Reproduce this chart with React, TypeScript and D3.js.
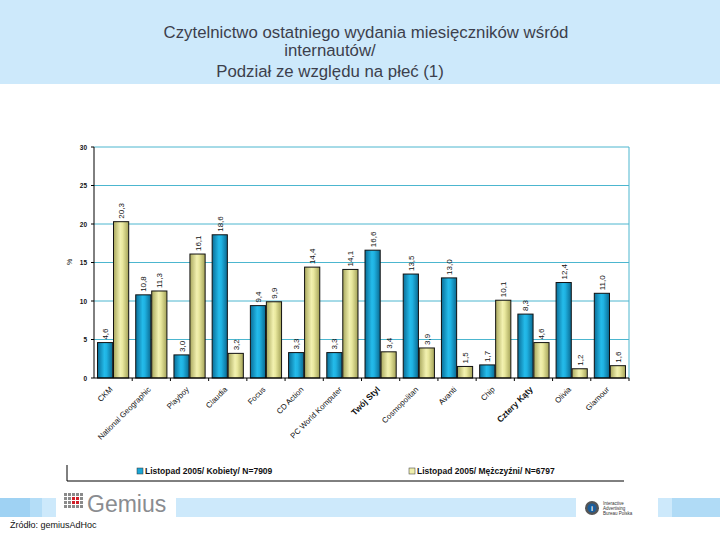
import React from "react";
import * as d3 from "d3";

const categories = ["CKM", "National Geographic", "Playboy", "Claudia", "Focus", "CD Action", "PC World Komputer", "Twój Styl", "Cosmopolitan", "Avanti", "Chip", "Cztery Kąty", "Olivia", "Glamour"];
const women = [4.6, 10.8, 3.0, 18.6, 9.4, 3.3, 3.3, 16.6, 13.5, 13.0, 1.7, 8.3, 12.4, 11.0];
const men = [20.3, 11.3, 16.1, 3.2, 9.9, 14.4, 14.1, 3.4, 3.9, 1.5, 10.1, 4.6, 1.2, 1.6];
const boldCats = ["Twój Styl", "Cztery Kąty"];
const yTicks = [0, 5, 10, 15, 20, 25, 30];
const seriesNames = ["Listopad 2005/ Kobiety/ N=7909", "Listopad 2005/ Mężczyźni/ N=6797"];
const titleLines = ["Czytelnictwo ostatniego wydania miesięczników wśród", "internautów/", "Podział ze względu na płeć (1)"];

const fmt = (v: number) => v.toFixed(1).replace(".", ",");

export default function App() {
  const W = 720, H = 540;
  const left = 94, right = 629, top = 147, bottom = 378;
  const x0 = d3.scaleBand<string>().domain(categories).range([left, right]).paddingInner(0).paddingOuter(0);
  const x1 = d3.scaleBand<string>().domain(["w", "m"]).range([0, x0.bandwidth()]).paddingOuter(0.22).paddingInner(0.05);
  const y = d3.scaleLinear().domain([0, 30]).range([bottom, top]);
  const font = "Liberation Sans, Arial, sans-serif";

  const bars: { v: number; key: string; cat: string }[] = [];
  categories.forEach((c, i) => {
    bars.push({ v: women[i], key: "w", cat: c });
    bars.push({ v: men[i], key: "m", cat: c });
  });

  return (
    <svg width={W} height={H} style={{ position: "absolute", left: 0, top: 0, background: "#fff" }} fontFamily={font}>
      <defs>
        <linearGradient id="gBlue" x1="0" x2="1" y1="0" y2="0">
          <stop offset="0" stopColor="#0a6e98" />
          <stop offset="0.45" stopColor="#24bbea" />
          <stop offset="0.6" stopColor="#1fb2e2" />
          <stop offset="1" stopColor="#0a6a92" />
        </linearGradient>
        <linearGradient id="gGold" x1="0" x2="1" y1="0" y2="0">
          <stop offset="0" stopColor="#a9a85e" />
          <stop offset="0.45" stopColor="#f2f1b0" />
          <stop offset="0.6" stopColor="#e9e89e" />
          <stop offset="1" stopColor="#a4a358" />
        </linearGradient>
      </defs>
      {/* title band */}
      <rect x={0} y={0} width={W} height={84} fill="#cde9fb" />
      {titleLines.map((t, i) => (
        <text key={i} x={i === 0 ? 366 : 330} y={[38, 56, 77][i]} textAnchor="middle" fontSize={16.8} fill="#3c3f4c">{t}</text>
      ))}

      {/* gridlines */}
      {yTicks.filter((t) => t > 0).map((t) => (
        <line key={t} x1={left} x2={right} y1={y(t)} y2={y(t)} stroke="#4cb6cf" strokeWidth={1} />
      ))}
      <line x1={right} x2={right} y1={top} y2={bottom} stroke="#4cb6cf" />

      {/* bars */}
      {bars.map((b, i) => {
        const bx = (x0(b.cat) as number) + (x1(b.key) as number);
        const bw = x1.bandwidth();
        return (
          <g key={i}>
            <rect x={bx} y={y(b.v)} width={bw} height={bottom - y(b.v)} fill={b.key === "w" ? "url(#gBlue)" : "url(#gGold)"} stroke="#111" strokeWidth={1} />
            <text transform={`translate(${bx + bw / 2 + 3},${y(b.v) - 3}) rotate(-90)`} fontSize={8} fill="#111">{fmt(b.v)}</text>
          </g>
        );
      })}

      {/* axes */}
      <line x1={left} x2={left} y1={top} y2={bottom} stroke="#000" />
      <line x1={left} x2={right} y1={bottom} y2={bottom} stroke="#000" />
      {yTicks.map((t) => (
        <g key={t}>
          <line x1={left - 3} x2={left} y1={y(t)} y2={y(t)} stroke="#000" />
          <text x={left - 7} y={y(t) + 2.5} textAnchor="end" fontSize={6.5} fontWeight="bold" fill="#111">{t}</text>
        </g>
      ))}
      {categories.map((c) => (
        <line key={c} x1={(x0(c) as number) + x0.bandwidth()} x2={(x0(c) as number) + x0.bandwidth()} y1={bottom} y2={bottom + 3} stroke="#000" />
      ))}
      <text transform={`translate(72,262) rotate(-90)`} textAnchor="middle" fontSize={7} fill="#111">%</text>

      {/* category labels */}
      {categories.map((c) => {
        const cx = (x0(c) as number) + x0.bandwidth() / 2;
        const bold = boldCats.includes(c);
        return (
          <text key={c} transform={`translate(${cx},${bottom + 12}) rotate(-45)`} textAnchor="end" fontSize={bold ? 8.5 : 7.8} fontWeight={bold ? "bold" : "normal"} fill="#111">{c}</text>
        );
      })}

      {/* legend */}
      <line x1={67} x2={67} y1={465} y2={481} stroke="#000" />
      <line x1={67} x2={624} y1={481} y2={481} stroke="#000" />
      <rect x={137} y={468} width={6} height={6} fill="#1aa6d6" stroke="#333" strokeWidth={0.5} />
      <text x={145} y={474} fontSize={8.5} fontWeight="bold" fill="#111">{seriesNames[0]}</text>
      <rect x={409} y={468} width={6} height={6} fill="#eeeeac" stroke="#333" strokeWidth={0.5} />
      <text x={417} y={474} fontSize={8.5} fontWeight="bold" fill="#111">{seriesNames[1]}</text>

      {/* footer band */}
      <rect x={0} y={498} width={W} height={19} fill="#cde9fb" />
      <rect x={0} y={498} width={30} height={19} fill="#9fd2f3" />
      <rect x={30} y={498} width={12} height={19} fill="#b4ddf7" />
      <rect x={672} y={498} width={48} height={19} fill="#b0dbf6" />
      <rect x={56} y={490} width={120} height={27} fill="#fff" />
      {d3.range(4).map((r) =>
        d3.range(5).map((cI) => (
          <rect key={`${r}-${cI}`} x={64 + cI * 4} y={493 + r * 4} width={3} height={3}
            fill={(r >= 1 && r <= 2 && cI >= 2 && cI <= 3) ? "#d0202a" : "#8a8a8a"} />
        ))
      )}
      <text x={87} y={512} fontSize={23} fill="#8a8c90">Gemius</text>
      <rect x={576} y={498} width={82} height={19} fill="#fff" />
      <circle cx={592} cy={508} r={7} fill="#555" />
      <circle cx={592} cy={508} r={4.5} fill="#1c5d9a" />
      <text x={592} y={511} textAnchor="middle" fontSize={7} fill="#fff" fontWeight="bold">i</text>
      <text x={603} y={505} fontSize={4.5} fill="#333">Interactive</text>
      <text x={603} y={510} fontSize={4.5} fill="#333">Advertising</text>
      <text x={603} y={515} fontSize={4.5} fill="#333">Bureau Polska</text>
      <text x={10} y={528} fontSize={9} fill="#111">Źródło: gemiusAdHoc</text>
    </svg>
  );
}
